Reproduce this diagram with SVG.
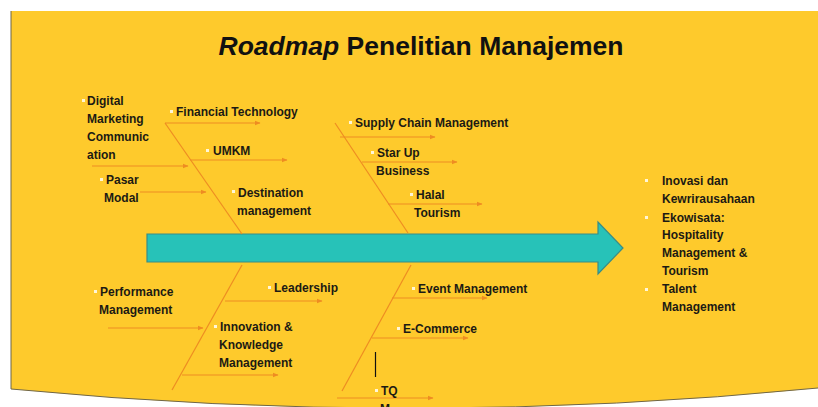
<svg xmlns="http://www.w3.org/2000/svg" width="818" height="407" viewBox="0 0 818 407">
<defs>
<style>
.t{font-family:"Liberation Sans",Arial,sans-serif;font-weight:bold;font-size:12px;fill:#1c1a14}
.title{font-family:"Liberation Sans",Arial,sans-serif;font-weight:bold;font-size:26.5px;fill:#111}
.ln{stroke:#EE8C22;stroke-width:1.2;fill:none}
.ar{stroke:#EE8C22;stroke-width:1.2;fill:none;marker-end:url(#ah)}
.b{fill:#FFF6D8}
</style>
<marker id="ah" markerWidth="6" markerHeight="6" refX="5" refY="3" orient="auto" markerUnits="userSpaceOnUse">
<path d="M0,0.8 L5.5,3 L0,5.2 Z" fill="#EE8C22"/>
</marker>
</defs>
<rect width="818" height="407" fill="#ffffff"/>
<path d="M11,11 L818,11 L818,388 Q415,428 11,389 Z" fill="#FECA2C"/>
<path d="M11,11 L11,389 Q415,428 818,388" fill="none" stroke="#6f6648" stroke-width="1"/>
<text class="title" x="421" y="55" text-anchor="middle"><tspan font-style="italic">Roadmap</tspan> Penelitian Manajemen</text>

<g id="spine">
<path d="M147,234 L598,234 L598,222 L623,248 L598,274 L598,262 L147,262 Z" fill="#27C2B8" stroke="#3A8C86" stroke-width="1.2"/>
</g>

<g id="connectors">
<line class="ln" x1="165" y1="123" x2="242" y2="234"/>
<line class="ar" x1="165" y1="123" x2="260" y2="123"/>
<line class="ar" x1="190" y1="160" x2="287" y2="160"/>
<line class="ar" x1="92" y1="166" x2="188" y2="166"/>
<line class="ar" x1="140" y1="192" x2="206" y2="192"/>
<line class="ln" x1="335" y1="123" x2="408" y2="233"/>
<line class="ar" x1="340" y1="137" x2="435" y2="137"/>
<line class="ar" x1="362" y1="162" x2="457" y2="162"/>
<line class="ar" x1="388" y1="204" x2="482" y2="204"/>
<line class="ln" x1="242" y1="265" x2="172" y2="390"/>
<line class="ar" x1="108" y1="328" x2="203" y2="328"/>
<line class="ar" x1="225" y1="301" x2="322" y2="301"/>
<line class="ar" x1="182" y1="375" x2="278" y2="375"/>
<line class="ln" x1="411" y1="265" x2="342" y2="391"/>
<line class="ar" x1="392" y1="298" x2="487" y2="298"/>
<line class="ar" x1="372" y1="338" x2="468" y2="338"/>
<line class="ar" x1="337" y1="398" x2="433" y2="398"/>
<line x1="375.5" y1="352" x2="375.5" y2="377" stroke="#111" stroke-width="1.2"/>
</g>

<g id="digital-marketing">
<rect class="b" x="82" y="99" width="3" height="3"/>
<text class="t" x="87" y="105">Digital</text>
<text class="t" x="87" y="123">Marketing</text>
<text class="t" x="87" y="141">Communic</text>
<text class="t" x="87" y="159">ation</text>
</g>
<g id="financial-technology">
<rect class="b" x="170" y="110" width="3" height="3"/>
<text class="t" x="176" y="116">Financial Technology</text>
</g>
<g id="umkm">
<rect class="b" x="206" y="149" width="3" height="3"/>
<text class="t" x="213" y="155">UMKM</text>
</g>
<g id="pasar-modal">
<rect class="b" x="100" y="178" width="3" height="3"/>
<text class="t" x="106" y="184">Pasar</text>
<text class="t" x="104" y="202">Modal</text>
</g>
<g id="destination-management">
<rect class="b" x="232" y="190" width="3" height="3"/>
<text class="t" x="238" y="197">Destination</text>
<text class="t" x="237" y="215">management</text>
</g>
<g id="supply-chain">
<rect class="b" x="349" y="121" width="3" height="3"/>
<text class="t" x="355" y="127">Supply Chain Management</text>
</g>
<g id="star-up">
<rect class="b" x="371" y="151" width="3" height="3"/>
<text class="t" x="377" y="157">Star Up</text>
<text class="t" x="376" y="175">Business</text>
</g>
<g id="halal-tourism">
<rect class="b" x="410" y="193" width="3" height="3"/>
<text class="t" x="416" y="199">Halal</text>
<text class="t" x="414" y="217">Tourism</text>
</g>
<g id="performance-management">
<rect class="b" x="94" y="290" width="3" height="3"/>
<text class="t" x="100" y="296">Performance</text>
<text class="t" x="99" y="314">Management</text>
</g>
<g id="leadership">
<rect class="b" x="268" y="286" width="3" height="3"/>
<text class="t" x="274" y="292">Leadership</text>
</g>
<g id="innovation-knowledge">
<rect class="b" x="214" y="325" width="3" height="3"/>
<text class="t" x="220" y="331">Innovation &amp;</text>
<text class="t" x="219" y="349">Knowledge</text>
<text class="t" x="219" y="367">Management</text>
</g>
<g id="event-management">
<rect class="b" x="412" y="287" width="3" height="3"/>
<text class="t" x="418" y="293">Event Management</text>
</g>
<g id="e-commerce">
<rect class="b" x="397" y="327" width="3" height="3"/>
<text class="t" x="403" y="333">E-Commerce</text>
</g>
<g id="tqm">
<rect class="b" x="375" y="389" width="3" height="3"/>
<text class="t" x="381" y="395">TQ</text>
<text class="t" x="380" y="413">M</text>
</g>
<g id="outcomes">
<rect class="b" x="645" y="179" width="3" height="3"/>
<rect class="b" x="645" y="216" width="3" height="3"/>
<rect class="b" x="645" y="288" width="3" height="3"/>
<text class="t" x="662" y="185">Inovasi dan</text>
<text class="t" x="662" y="203">Kewrirausahaan</text>
<text class="t" x="662" y="222">Ekowisata:</text>
<text class="t" x="662" y="239">Hospitality</text>
<text class="t" x="662" y="257">Management &amp;</text>
<text class="t" x="662" y="275">Tourism</text>
<text class="t" x="662" y="293">Talent</text>
<text class="t" x="662" y="311">Management</text>
</g>
</svg>
